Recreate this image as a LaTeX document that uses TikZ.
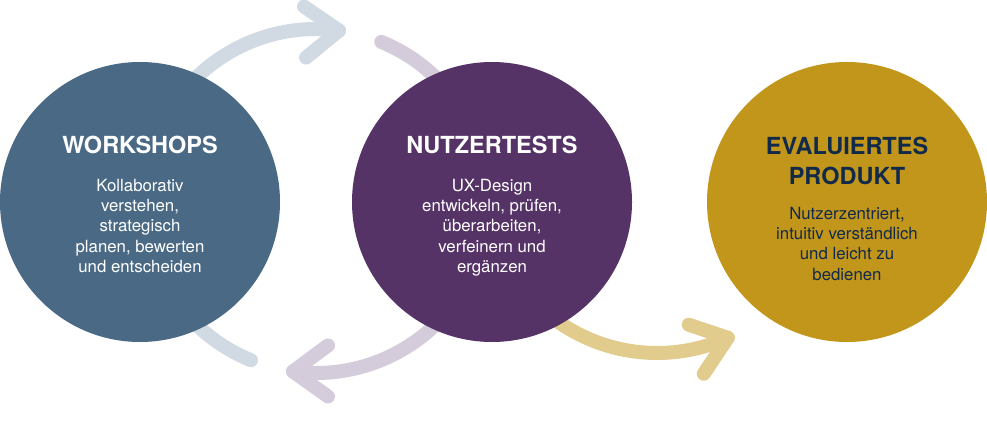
\documentclass[tikz,border=0pt]{standalone}
\usepackage{fontspec}
\setmainfont{TeX Gyre Heros}
\definecolor{cblue}{HTML}{4A6984}
\definecolor{cpurple}{HTML}{553366}
\definecolor{cgold}{HTML}{C1961B}
\definecolor{lblue}{HTML}{D1DAE2}
\definecolor{lpurple}{HTML}{D5CCDB}
\definecolor{lgold}{HTML}{E1CC8D}
\definecolor{navy}{HTML}{112A4A}
\begin{document}
\begin{tikzpicture}[x=1pt,y=1pt,
  circ/.style={circle, minimum size=280pt, inner sep=0pt, draw=none},
  flow/.style={line width=14pt, line cap=round, line join=round},
  ttl/.style={font=\fontsize{23.5}{28}\selectfont\bfseries, anchor=base},
  bdy/.style={font=\fontsize{16.8}{20}\selectfont, anchor=base}]
\useasboundingbox (0,0) rectangle (987,429);

% cycle arcs
\coordinate (O) at (316,228);
\coordinate (G) at (657,248);
\draw[flow, lblue] (O) ++(247.8:172) arc[start angle=247.8, end angle=82.3, radius=172] coordinate (t1);
\draw[flow, lblue] ([shift={(-35,24)}]t1) -- (t1) -- ([shift={(-33,-27)}]t1);
\draw[flow, lpurple] (O) ++(67.7:172) arc[start angle=67.7, end angle=-97.7, radius=172] coordinate (t2);
\draw[flow, lpurple] ([shift={(35,26)}]t2) -- (t2) -- ([shift={(35,-25)}]t2);
\draw[flow, lgold] (G) ++(220:172) arc[start angle=220, end angle=294.3, radius=172] coordinate (t3);
\draw[flow, lgold] ([shift={(-39,13)}]t3) -- (t3) -- ([shift={(-24,-36)}]t3);

% circles
\node[circ, fill=cblue] (ws) at (140,227) {};
\node[circ, fill=cpurple] (nt) at (492,227) {};
\node[circ, fill=cgold] (ep) at (847,227) {};

% texts
\node[ttl, text=white] (wst) at (140,275) {WORKSHOPS};
\foreach \l [count=\i] in {Kollaborativ, {verstehen,}, strategisch, {planen, bewerten}, und entscheiden}
  \node[bdy, text=white] (wsb\i) at (140,{238-20.4*(\i-1)}) {\l};

\node[ttl, text=white] (ntt) at (492,275) {NUTZERTESTS};
\foreach \l [count=\i] in {UX-Design, {entwickeln, prüfen,}, {überarbeiten,}, verfeinern und, ergänzen}
  \node[bdy, text=white] (ntb\i) at (492,{238-20.4*(\i-1)}) {\l};

\node[ttl, text=navy] (ept1) at (847,274) {EVALUIERTES};
\node[ttl, text=navy] (ept2) at (847,244) {PRODUKT};
\foreach \l [count=\i] in {{Nutzerzentriert,}, intuitiv verständlich, und leicht zu, bedienen}
  \node[bdy, text=navy] (epb\i) at (847,{210-20.4*(\i-1)}) {\l};
\end{tikzpicture}
\end{document}
